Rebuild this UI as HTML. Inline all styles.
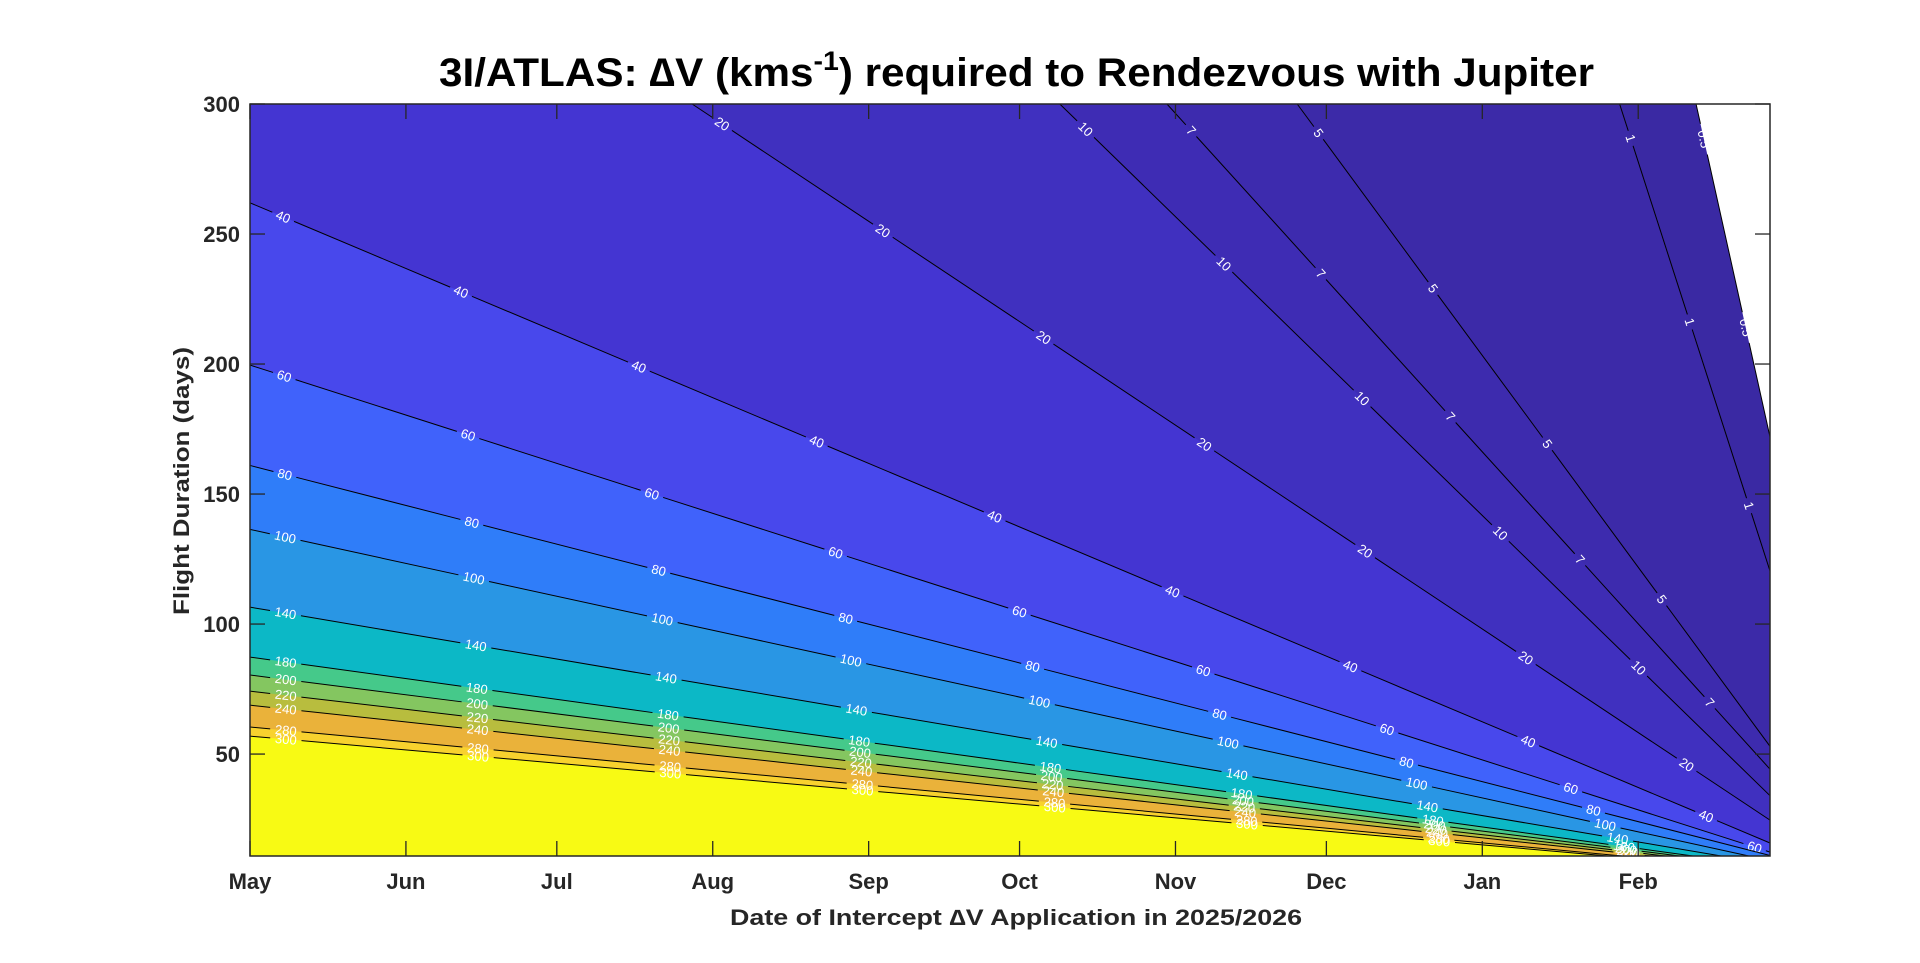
<!DOCTYPE html>
<html><head><meta charset="utf-8"><style>
html,body{margin:0;padding:0;background:#fff;}
svg{display:block;font-family:"Liberation Sans",Arial,sans-serif;}
</style></head><body>
<svg id="chart" width="1920" height="963" viewBox="0 0 1920 963">
<text x="439" y="86" text-anchor="start" font-size="40" font-weight="bold" fill="#000" textLength="1155" lengthAdjust="spacingAndGlyphs">3I/ATLAS: ∆V (kms<tspan font-size="27" dy="-16">-1</tspan><tspan dy="16">) required to Rendezvous with Jupiter</tspan></text>
<g id="plot"></g>
<text x="1016" y="925" text-anchor="middle" font-size="22" font-weight="bold" fill="#262626" textLength="572" lengthAdjust="spacingAndGlyphs">Date of Intercept ∆V Application in 2025/2026</text>
<text transform="translate(189,481) rotate(-90)" text-anchor="middle" font-size="22" font-weight="bold" fill="#262626" textLength="268" lengthAdjust="spacingAndGlyphs">Flight Duration (days)</text>
</svg>
<script>
// ---- data ----
const levels = [0.5,1,5,7,10,20,40,60,80,100,140,180,200,220,240,280,300];
const startT = [287.5,272.3,208.2,182.3,161,87.9,0,0,0,0,0,0,0,0,0,0,0];
const startD = [300,300,300,300,300,300,262,199.6,161,136.4,106.5,87.3,80.4,74.2,68.8,60.4,56.9];
const endT = [302.2,302.2,302.2,302.2,302.2,302.2,302.2,302.2,302.2,298,292.5,286.9,284.2,281.4,278.5,272.8,270];
const endD = [172,120.4,53,44.2,34,24.6,15.8,12.3,11,10.8,10.8,10.8,10.8,10.8,10.8,10.8,10.8];
const bandColors = ['#3a29a3','#3c2aa8','#3d2bae','#3e2cb4','#4030bf','#4435d2','#4848ec','#4062fb','#2f7df9','#2996e4','#0cb8c6','#45c98a','#84c660','#b8bd3e','#eab23a','#f8d22e','#f8fa14'];
const monthLabels = ['May','Jun','Jul','Aug','Sep','Oct','Nov','Dec','Jan','Feb'];
const monthDays = [0,31,61,92,123,153,184,214,245,276];
const yTicks = [300,250,200,150,100,50];
// ---- axes ----
const X0=250, X1=1770, Y0=104, Y1=856;
const TMAX=302.2, DMIN=10.8, DMAX=300;
const xs = t => X0 + t*(X1-X0)/TMAX;
const ys = d => Y0 + (DMAX-d)*(Y1-Y0)/(DMAX-DMIN);
const NS='http://www.w3.org/2000/svg';
const plot=document.getElementById('plot');
function mk(tag,attrs,parent){const e=document.createElementNS(NS,tag);for(const k in attrs)e.setAttribute(k,attrs[k]);(parent||plot).appendChild(e);return e;}
const bg=mk('rect',{x:X0,y:Y0,width:X1-X0,height:Y1-Y0,fill:bandColors[0]});


for(let i=1;i<levels.length;i++){
  const pts=[[startT[i],startD[i]],[endT[i],endD[i]]];
  if(endT[i]>=TMAX-0.01) pts.push([TMAX,DMIN]);
  pts.push([0,DMIN]);
  if(startT[i]>0.01) pts.push([0,DMAX]);
  const p=mk('polygon',{points:pts.map(q=>xs(q[0])+','+ys(q[1])).join(' '),fill:bandColors[i]});
  
  
}
const nanP=mk('polygon',{points:[[startT[0],startD[0]],[endT[0],endD[0]],[TMAX,DMAX]].map(q=>xs(q[0])+','+ys(q[1])).join(' '),fill:'#ffffff'});


for(let i=0;i<levels.length;i++){
  const x1=xs(startT[i]),y1=ys(startD[i]),x2=xs(endT[i]),y2=ys(endD[i]);
  const L=Math.hypot(x2-x1,y2-y1), ux=(x2-x1)/L, uy=(y2-y1)/L;
  let ang=Math.atan2(uy,ux)*180/Math.PI;
  const txt=String(levels[i]);
  const hw=txt.length*3.9+4;
  const g=mk('g',{});
  
  
  let s=0;
  const labs=[];
  for(let c=36;c<L-10;c+=193) labs.push(c);
  for(const c of labs){
    const a=Math.max(0,c-hw);
    if(a>s) mk('line',{x1:x1+ux*s,y1:y1+uy*s,x2:x1+ux*a,y2:y1+uy*a,stroke:'#000','stroke-width':1},g);
    s=c+hw;
    const t=mk('text',{x:0,y:4.5,'text-anchor':'middle','font-size':13,fill:'#fff',transform:`translate(${x1+ux*c},${y1+uy*c}) rotate(${ang})`},g);
    t.textContent=txt;
    
    
  }
  if(s<L) mk('line',{x1:x1+ux*s,y1:y1+uy*s,x2:x2,y2:y2,stroke:'#000','stroke-width':1},g);
}
const box=mk('rect',{x:X0,y:Y0,width:X1-X0,height:Y1-Y0,fill:'none',stroke:'#262626','stroke-width':1.5});


monthDays.forEach((d,k)=>{
  const x=xs(d);
  mk('line',{x1:x,y1:Y1,x2:x,y2:Y1-15,stroke:'#262626','stroke-width':1.3});
  mk('line',{x1:x,y1:Y0,x2:x,y2:Y0+15,stroke:'#262626','stroke-width':1.3});
  const t=mk('text',{x:x,y:889,'text-anchor':'middle','font-size':22,'font-weight':'bold',fill:'#262626'});
  t.textContent=monthLabels[k];
  
  
});
yTicks.forEach(v=>{
  const y=ys(v);
  mk('line',{x1:X0,y1:y,x2:X0+15,y2:y,stroke:'#262626','stroke-width':1.3});
  mk('line',{x1:X1,y1:y,x2:X1-15,y2:y,stroke:'#262626','stroke-width':1.3});
  const t=mk('text',{x:240,y:y+8,'text-anchor':'end','font-size':22,'font-weight':'bold',fill:'#262626'});
  t.textContent=String(v);
  
  
});
</script>
</body></html>
